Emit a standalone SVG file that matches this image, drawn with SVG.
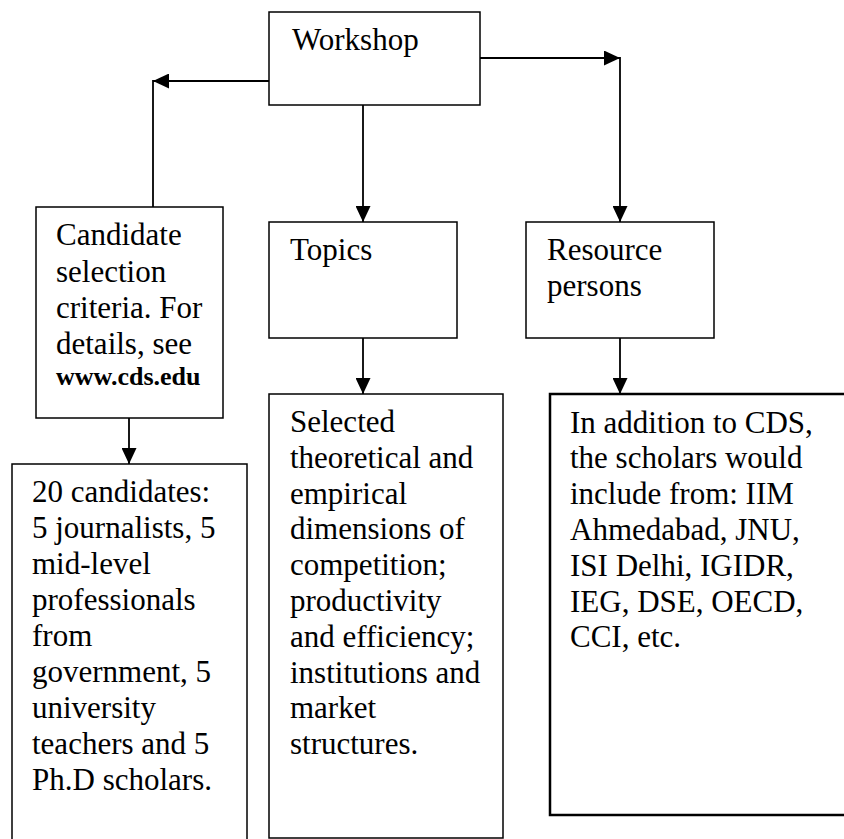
<svg xmlns="http://www.w3.org/2000/svg" width="844" height="839" viewBox="0 0 844 839">
<style>
.box{fill:#fff;stroke:#000;stroke-width:1.5}
.thick{stroke-width:2.5}
.t{font-family:"Liberation Serif","Times New Roman",serif;font-size:31px;fill:#000}
.b{font-weight:bold;font-size:26px}
.c{fill:none;stroke:#000;stroke-width:1.8}
</style>
<defs>
<marker id="ah" markerUnits="userSpaceOnUse" markerWidth="16" markerHeight="15" viewBox="0 0 16 15" refX="16" refY="7.5" orient="auto">
<path d="M0,0 L16,7.5 L0,15 z" fill="#000"/>
</marker>
</defs>
<rect width="844" height="839" fill="#fff"/>
<g id="connectors">
<path class="c" d="M269,81 H153" marker-end="url(#ah)"/>
<path class="c" d="M153,80 V207"/>
<path class="c" d="M480,58 H620" marker-end="url(#ah)"/>
<path class="c" d="M620,57 V222" marker-end="url(#ah)"/>
<path class="c" d="M363,105 V222" marker-end="url(#ah)"/>
<path class="c" d="M129,418 V464" marker-end="url(#ah)"/>
<path class="c" d="M363,338 V394" marker-end="url(#ah)"/>
<path class="c" d="M620,338 V394" marker-end="url(#ah)"/>
</g>
<g id="workshop">
<rect class="box" x="269" y="12" width="211" height="93"/>
<text class="t" x="292" y="50">Workshop</text>
</g>
<g id="candidate">
<rect class="box" x="36" y="207" width="187" height="211"/>
<text class="t" x="56" y="245">Candidate</text>
<text class="t" x="56" y="281.5">selection</text>
<text class="t" x="56" y="318">criteria. For</text>
<text class="t" x="56" y="354">details, see</text>
<text class="t b" x="56" y="385">www.cds.edu</text>
</g>
<g id="topics">
<rect class="box" x="269" y="222" width="188" height="116"/>
<text class="t" x="290" y="260">Topics</text>
</g>
<g id="resource">
<rect class="box" x="526" y="222" width="188" height="116"/>
<text class="t" x="547" y="259.5">Resource</text>
<text class="t" x="547" y="296">persons</text>
</g>
<g id="candidates20">
<rect class="box" x="12" y="464" width="235" height="400"/>
<text class="t" x="32" y="502">20 candidates:</text>
<text class="t" x="32" y="538">5 journalists, 5</text>
<text class="t" x="32" y="574">mid-level</text>
<text class="t" x="32" y="610">professionals</text>
<text class="t" x="32" y="646">from</text>
<text class="t" x="32" y="682">government, 5</text>
<text class="t" x="32" y="718">university</text>
<text class="t" x="32" y="754">teachers and 5</text>
<text class="t" x="32" y="790">Ph.D scholars.</text>
</g>
<g id="selected">
<rect class="box" x="269" y="394" width="234" height="444"/>
<text class="t" x="290" y="432">Selected</text>
<text class="t" x="290" y="467.8">theoretical and</text>
<text class="t" x="290" y="503.6">empirical</text>
<text class="t" x="290" y="539.4">dimensions of</text>
<text class="t" x="290" y="575.2">competition;</text>
<text class="t" x="290" y="611">productivity</text>
<text class="t" x="290" y="646.8">and efficiency;</text>
<text class="t" x="290" y="682.6">institutions and</text>
<text class="t" x="290" y="718.4">market</text>
<text class="t" x="290" y="754.2">structures.</text>
</g>
<g id="scholars">
<rect class="box thick" x="550" y="394" width="310" height="421"/>
<text class="t" x="570" y="432.5">In addition to CDS,</text>
<text class="t" x="570" y="468.3">the scholars would</text>
<text class="t" x="570" y="504.1">include from: IIM</text>
<text class="t" x="570" y="539.9">Ahmedabad, JNU,</text>
<text class="t" x="570" y="575.7">ISI Delhi, IGIDR,</text>
<text class="t" x="570" y="611.5">IEG, DSE, OECD,</text>
<text class="t" x="570" y="647.3">CCI, etc.</text>
</g>
</svg>
